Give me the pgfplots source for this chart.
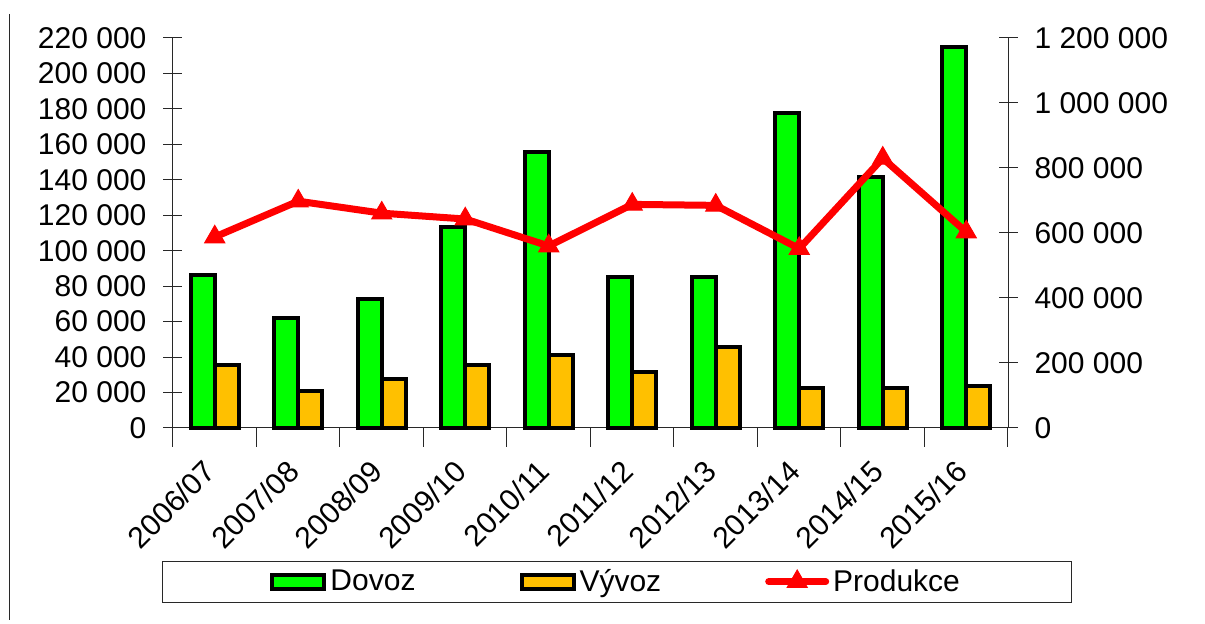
\documentclass[border=0pt]{standalone}
\usepackage{fontspec}
\setmainfont{Liberation Sans}
\usepackage{pgfplots}
\usepackage{pgfplotstable}
\pgfplotsset{compat=1.18}
\definecolor{cgreen}{RGB}{0,255,0}
\definecolor{corange}{RGB}{255,192,0}
\definecolor{cred}{RGB}{255,0,0}
\definecolor{caxis}{RGB}{40,40,40}

\pgfplotsset{
  barlegend/.style={legend image code/.code={\draw[##1] (0pt,-3.5pt) rectangle (26pt,3.5pt);}},
  linelegend/.style={legend image code/.code={\draw[mark repeat=2,mark phase=2,line cap=round,##1] plot coordinates {(0pt,0pt) (14.25pt,0pt) (28.5pt,0pt)};}},
}

\pgfplotstableread{
x dovoz vyvoz produkce
0 86100 35300 587700
1 62200 20900 697900
2 72500 27800 661000
3 113600 35300 643000
4 155900 41000 560000
5 85200 31600 688000
6 85200 45700 685000
7 177500 22300 552000
8 141800 22700 830000
9 215100 23700 603000
}\datatable

\begin{document}
\begin{tikzpicture}[font=\fontsize{15}{18}\selectfont]
\useasboundingbox (-86.5pt,-98pt) rectangle (516pt,214pt);
\draw[line width=0.6pt, caxis] (-81.85pt,207pt) -- (-81.85pt,-96pt);
\begin{axis}[
  at={(0pt,0pt)}, anchor=south west,
  scale only axis, width=417.5pt, height=195pt,
  xmin=-0.5, xmax=9.5, ymin=0, ymax=220000,
  axis x line=bottom, axis y line=left,
  axis line style={-, line width=0.5pt, caxis},
  xtick={0,...,9},
  xticklabels={2006/07,2007/08,2008/09,2009/10,2010/11,2011/12,2012/13,2013/14,2014/15,2015/16},
  minor xtick={-0.5,0.5,...,9.5},
  major x tick style={draw=none},
  ytick={0,20000,...,220000},
  tick align=center, major tick length=9.5pt, minor tick length=9.5pt,
  tick style={line width=0.5pt, caxis},
  scaled y ticks=false,
  /pgf/number format/.cd, fixed, precision=0, 1000 sep={\ }, assume math mode=true,
  /pgfplots/.cd,
  tick label style={font=\fontsize{15}{18}\selectfont},
  yticklabel style={xshift=-5pt},
  xticklabel style={xshift=0pt, yshift=-7pt, rotate=45, anchor=east},
  ybar=0pt, bar width=12pt,
  clip=false,
]
\addplot[fill=cgreen, draw=black, line width=2pt] table[x=x,y=dovoz]{\datatable};
\addplot[fill=corange, draw=black, line width=2pt] table[x=x,y=vyvoz]{\datatable};
\end{axis}
\begin{axis}[
  at={(0pt,0pt)}, anchor=south west,
  scale only axis, width=417.5pt, height=195pt,
  xmin=-0.5, xmax=9.5, ymin=0, ymax=1200000,
  axis y line=right, axis x line=none,
  axis line style={-, line width=0.5pt, caxis},
  ytick={0,200000,...,1200000},
  tick align=center, major tick length=9.5pt,
  tick style={line width=0.5pt, caxis},
  scaled y ticks=false,
  /pgf/number format/.cd, fixed, precision=0, 1000 sep={\ }, assume math mode=true,
  /pgfplots/.cd,
  tick label style={font=\fontsize{15}{18}\selectfont},
  yticklabel style={xshift=5pt},
  clip=false,
  legend columns=3,
  legend style={at={(0.532,-0.340)}, anchor=north, draw=caxis, line width=0.5pt,
    inner xsep=54pt, inner ysep=2pt, font=\fontsize{15}{18}\selectfont,
    /tikz/every even column/.append style={column sep=50pt}},
]
\addlegendimage{barlegend, fill=cgreen, draw=black, line width=2pt}
\addlegendentry{Dovoz}
\addlegendimage{barlegend, fill=corange, draw=black, line width=2pt}
\addlegendentry{Vývoz}
\addplot[linelegend, color=cred, line width=3.5pt, mark=triangle*, mark size=5.8pt, mark options={solid, line width=0.5pt}] table[x=x,y=produkce]{\datatable};
\addlegendentry{Produkce}
\end{axis}
\end{tikzpicture}
\end{document}
